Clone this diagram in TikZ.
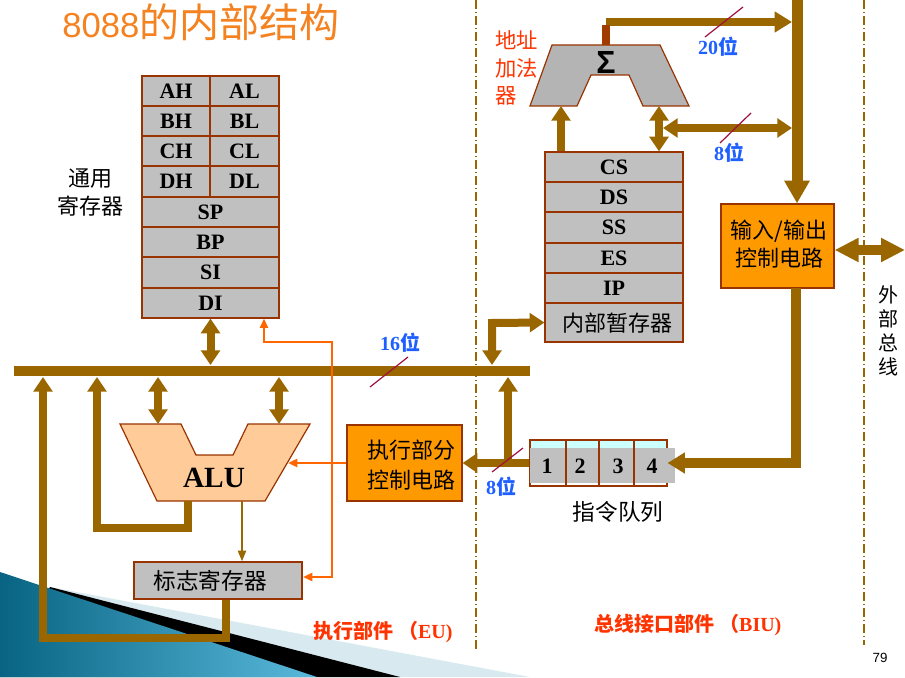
\documentclass[tikz,border=0pt]{standalone}
\usepackage{fontspec}
\setmainfont{Liberation Serif}
\setsansfont{Liberation Sans}
\newfontfamily\cjk{Noto Sans CJK SC}
\usetikzlibrary{arrows.meta,fit,calc}
\definecolor{busc}{RGB}{153,102,0}
\definecolor{brdr}{RGB}{153,51,0}
\definecolor{stubc}{RGB}{160,60,0}
\definecolor{regg}{RGB}{192,192,192}
\definecolor{addg}{RGB}{180,180,180}
\definecolor{boxo}{RGB}{255,153,0}
\definecolor{alub}{RGB}{255,204,153}
\definecolor{ctrlo}{RGB}{255,102,0}
\definecolor{lblb}{RGB}{30,95,255}
\definecolor{slashc}{RGB}{160,16,60}
\definecolor{lblr}{RGB}{255,51,0}
\definecolor{titleo}{RGB}{245,130,32}
\definecolor{qcyan}{RGB}{204,255,255}
\definecolor{tealA}{RGB}{8,100,130}
\definecolor{tealB}{RGB}{90,185,220}
\definecolor{pale}{RGB}{216,234,240}
\newcommand\myreg{\fontsize{16.5}{18}\selectfont\bfseries}
\newcommand\myblue{\fontsize{15}{17}\selectfont\bfseries}
\newcommand\mycjk{\fontsize{16.5}{21}\selectfont\cjk}
\begin{document}
\begin{tikzpicture}[x=0.75pt,y=-0.75pt,
  cell/.style={draw=brdr, fill=regg, line width=0.9pt, inner sep=0pt},
  rtxt/.style={font=\myreg, inner sep=0pt},
  obox/.style={draw=brdr, fill=boxo, line width=0.9pt, inner sep=0pt},
  bus/.style={draw=busc, line width=6pt, >={Triangle[width=14pt,length=11pt]}},
  mainbus/.style={draw=busc, line width=8pt, >={Triangle[width=18pt,length=17pt]}},
  ctl/.style={draw=ctrlo, line width=2pt, >={Triangle[width=6pt,length=7pt]}},
  thinbus/.style={draw=busc, line width=1.5pt, >={Triangle[width=6pt,length=8pt]}},
  slash/.style={draw=slashc, line width=0.9pt},
  blu/.style={text=lblb, font=\myblue, inner sep=0pt},
  cjkt/.style={font=\mycjk, inner sep=0pt},
  ddot/.style={draw=busc, line width=0.8pt, dash pattern=on 7pt off 2pt on 1pt off 2pt},
]
\useasboundingbox (0,0) rectangle (905,677);
% background decoration
\fill[pale] (50,587) -- (530,677) -- (0,677) -- cycle;
\fill[black] (50,587) -- (400,677) -- (0,677) -- cycle;
\shade[left color=tealA, right color=tealB] (0,572) -- (317,677) -- (0,677) -- cycle;
% dash-dot separators
\draw[ddot] (476,0) -- (476,651);
\draw[ddot] (864,0) -- (864,645);
% title
\node[anchor=base west, text=titleo, inner sep=0pt] (title) at (62,38)
  {\fontsize{26}{30}\selectfont\sffamily 8088\cjk\fontsize{30}{30}\selectfont 的内部结构};
% general registers
\node[cell, fit={(142,76)(210,106)}] (ah) {};
\node[cell, fit={(210,76)(279,106)}] (al) {};
\node[cell, fit={(142,106)(210,136)}] (bh) {};
\node[cell, fit={(210,106)(279,136)}] (bl) {};
\node[cell, fit={(142,136)(210,166)}] (ch) {};
\node[cell, fit={(210,136)(279,166)}] (cl) {};
\node[cell, fit={(142,166)(210,197)}] (dh) {};
\node[cell, fit={(210,166)(279,197)}] (dl) {};
\node[cell, fit={(142,197)(279,227)}] (sp) {};
\node[cell, fit={(142,227)(279,257)}] (bp) {};
\node[cell, fit={(142,257)(279,288)}] (si) {};
\node[cell, fit={(142,288)(279,318)}] (di) {};
\node[rtxt] (ahT) at (ah) {AH};
\node[rtxt] (alT) at (al) {AL};
\node[rtxt] (bhT) at (bh) {BH};
\node[rtxt] (blT) at (bl) {BL};
\node[rtxt] (chT) at (ch) {CH};
\node[rtxt] (clT) at (cl) {CL};
\node[rtxt] (dhT) at (dh) {DH};
\node[rtxt] (dlT) at (dl) {DL};
\node[rtxt] (spT) at (sp) {SP};
\node[rtxt] (bpT) at (bp) {BP};
\node[rtxt] (siT) at (si) {SI};
\node[rtxt] (diT) at (di) {DI};
\node[cjkt, align=center] (gpr) at (90,193) {通用\\寄存器};
% segment registers
\node[cell, fit={(545,152)(683,182)}] (cs) {};
\node[cell, fit={(545,182)(683,212)}] (ds) {};
\node[cell, fit={(545,212)(683,243)}] (ss) {};
\node[cell, fit={(545,243)(683,273)}] (es) {};
\node[cell, fit={(545,273)(683,303)}] (ip) {};
\node[cell, fit={(545,303)(683,342)}] (tmp) {};
\node[rtxt] (csT) at (cs) {CS};
\node[rtxt] (dsT) at (ds) {DS};
\node[rtxt] (ssT) at (ss) {SS};
\node[rtxt] (esT) at (es) {ES};
\node[rtxt] (ipT) at (ip) {IP};
\node[cjkt] (tmpT) at (617,323) {内部暂存器};
% address adder
\draw[draw=brdr, fill=addg, line width=0.9pt] (530,106) -- (552,45) -- (660,45) -- (689,106) -- (643,106) -- (629,75) -- (591,75) -- (577,106) -- cycle;
\node[font=\fontsize{24}{26}\selectfont\sffamily\bfseries, inner sep=0pt] (sig) at (606,62) {Σ};
\node[cjkt, text=lblr, align=left, anchor=west, font=\fontsize{16}{20.5}\selectfont\cjk] (addlbl) at (495,68) {地址\\加法\\器};
\coordinate (addL) at (561,106);
\coordinate (addR) at (659,106);
\coordinate (sigstub) at (606,22);
\coordinate (vbus20) at (792,22);
\coordinate (vbus8) at (792,128);
\coordinate (j8) at (663,128);
\coordinate (vtop) at (797,0);
% I/O control
\node[obox, fit={(721,204)(834,288)}] (io) {};
\node[cjkt, align=center] (iotxt) at (779,244) {输入/输出\\控制电路};
\coordinate (ext) at (905,250);
\coordinate (iob) at (796,288);
\coordinate (iocorner) at (796,463);
\node[cjkt, align=center, font=\fontsize{15}{18}\selectfont\cjk] (extlbl) at (888,331) {外\\部\\总\\线};
% instruction queue
\fill[qcyan] (530,440) rectangle (667,448);
\node[draw=brdr, line width=0.8pt, inner sep=0pt, fit={(530,440)(667,486)}] (queue) {};
\fill[regg] (530,448) rectangle (675,483);
\draw[brdr, line width=0.8pt] (566,440) -- (566,486) (599,440) -- (599,486) (634,440) -- (634,486);
\node[rtxt] (q1) at (547,466) {1};
\node[rtxt] (q2) at (580,466) {2};
\node[rtxt] (q3) at (618,466) {3};
\node[rtxt] (q4) at (652,466) {4};
\node[cjkt, font=\fontsize{17}{20}\selectfont\cjk] (qlbl) at (618,512) {指令队列};
% execution control
\node[obox, fit={(347,425)(462,501)}] (exec) {};
\node[cjkt, align=center, font=\fontsize{16.5}{22.5}\selectfont\cjk] (exectxt) at (411,465) {执行部分\\控制电路};
% ALU
\draw[draw=brdr, fill=alub, line width=0.9pt] (120,424) -- (181,424) -- (196,455) -- (233,455) -- (248,424) -- (310,424) -- (265,501) -- (157,501) -- cycle;
\node[font=\fontsize{22}{24}\selectfont\bfseries, inner sep=0pt] (alutxt) at (214,478) {ALU};
% flag register
\node[cell, fit={(134,562)(302,599)}] (flag) {};
\node[cjkt, font=\fontsize{17}{20}\selectfont\cjk] (flagtxt) at (210,581) {标志寄存器};
% bus coordinates
\coordinate (busL) at (14,371);
\coordinate (busR) at (530,371);
\coordinate (qj) at (508,463);
\coordinate (cj) at (332,463);
% ---- connectors ----
\draw[mainbus] (busL) -- (busR);
\draw[mainbus, line width=8.25pt, ->] (vtop) -- (io.north -| vtop);
\draw[bus, line width=6.5pt, ->, >={Triangle[width=15pt,length=13pt]}] (sigstub) -- (vbus20);
\fill[stubc] (602,25) rectangle (610,45);
\draw[bus, ->] (cs.north -| addL) -- (addL);
\draw[bus, <->] (cs.north -| addR) -- (addR);
\draw[bus, <->] (j8) -- (vbus8);
\draw[bus, line width=7.5pt, <->, >={Triangle[width=17pt,length=18pt]}] (io.east |- ext) -- (ext);
\draw[bus, line width=7.5pt, ->, >={Triangle[width=15pt,length=13pt]}] (iob) -- (iocorner) -- (queue.east);
\draw[bus, ->] (queue.west) -- (exec.east);
\draw[bus, ->] (qj) -- (508,377);
\draw[bus, <->] (di.south) -- (210.5,365);
\draw[bus, <->] (492,365) -- (492,323) -- (tmp.west);
\draw[bus, line width=5.5pt, <->] (158,377) -- (158,424);
\draw[bus, line width=5.5pt, <->] (279,377) -- (279,424);
\draw[bus, line width=5.5pt, ->] (188,501) -- (188,528) -- (97,528) -- (97,377);
\draw[bus, line width=5.5pt, ->] (flag.south -| 226,0) -- (226,638) -- (43,638) -- (43,377);
\draw[thinbus, ->] (242,501) -- (flag.north -| 242,0);
\draw[ctl, ->] (exec.west) -- (288,463);
\draw[ctl, ->] (cj) -- (332,342) -- (264,342) -- (di.south -| 264,0);
\draw[ctl, ->] (cj) -- (332,577) -- (303,577);
% width labels
\node[blu] (b16) at (400,343) {16{\cjk 位}};
\draw[slash] (370,387) -- (408,357);
\node[blu] (b20) at (718,47) {20{\cjk 位}};
\draw[slash] (705,37) -- (743,7);
\node[blu] (b8a) at (729,153) {8{\cjk 位}};
\draw[slash] (720,143) -- (751,113);
\node[blu] (b8b) at (501,487) {8{\cjk 位}};
\draw[slash] (492,472) -- (523,448);
% section labels
\node[text=lblr, font=\fontsize{15}{17}\selectfont\bfseries, inner sep=0pt] (eu) at (383,632) {{\cjk 执行部件 （}EU)};
\node[text=lblr, font=\fontsize{15}{17}\selectfont\bfseries, inner sep=0pt] (biu) at (688,625) {{\cjk 总线接口部件 （}BIU)};
\node[font=\fontsize{10}{12}\selectfont\sffamily, inner sep=0pt] (pg) at (880,658) {79};
\end{tikzpicture}
\end{document}
